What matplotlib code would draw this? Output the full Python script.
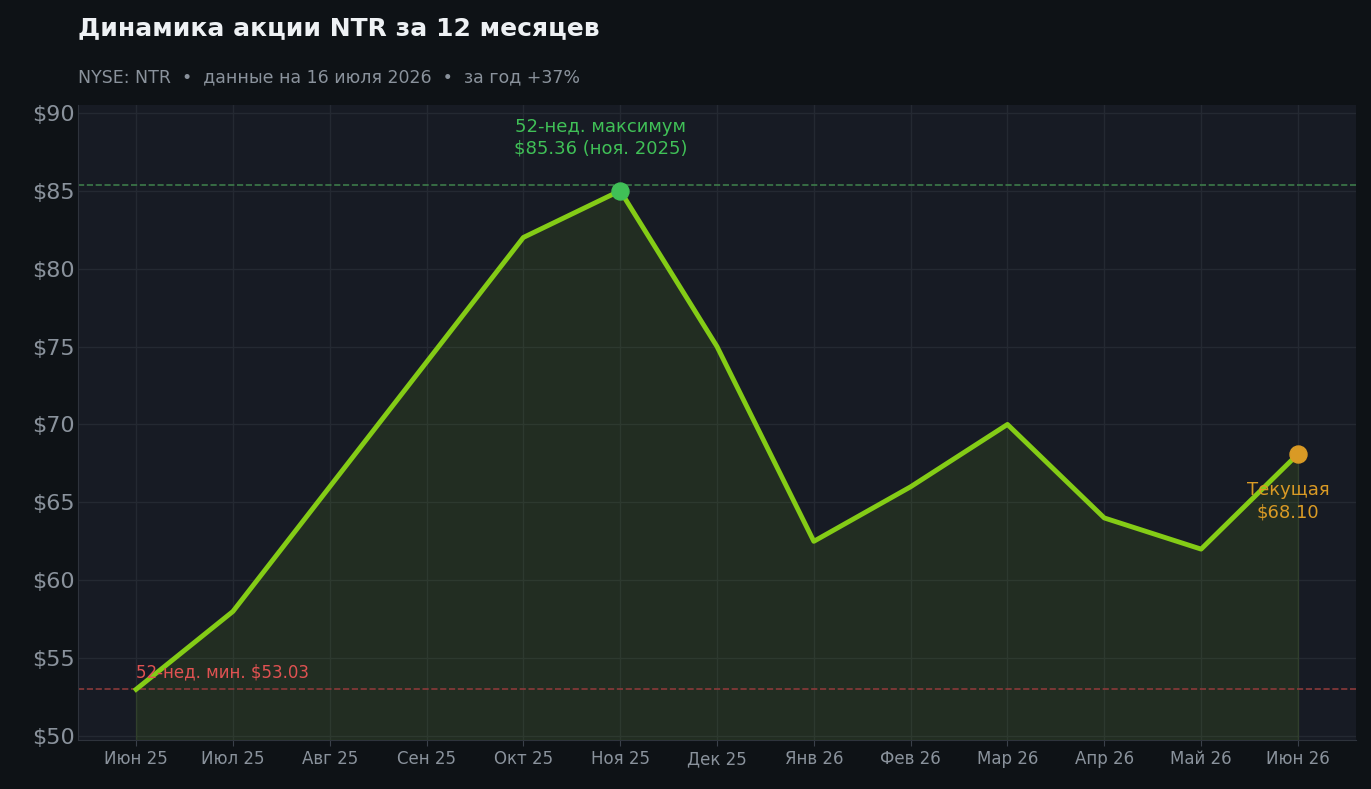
import matplotlib
matplotlib.use('Agg')
import matplotlib.pyplot as plt

plt.rcParams['font.family'] = ['DejaVu Sans']

months = ['Июн 25', 'Июл 25', 'Авг 25', 'Сен 25', 'Окт 25', 'Ноя 25', 'Дек 25',
          'Янв 26', 'Фев 26', 'Мар 26', 'Апр 26', 'Май 26', 'Июн 26']
prices = [53.0, 58.0, 66.0, 74.0, 82.0, 85.0, 75.0, 62.5, 66.0, 70.0, 64.0, 62.0, 68.1]
high_52 = 85.36
low_52 = 53.03
current = 68.10

fig = plt.figure(figsize=(13.71, 7.89), dpi=100, facecolor='#0e1216')
ax = fig.add_axes([78/1371, 1 - 740/789, (1356-78)/1371, (740-105)/789])
ax.set_facecolor('#171b24')

x = list(range(len(months)))
ax.fill_between(x, prices, 49.75, color='#84cc16', alpha=0.1)
ax.plot(x, prices, color='#84cc16', linewidth=3.5, zorder=3)

ax.axhline(high_52, color='#3d7a4a', linestyle='--', linewidth=1.2)
ax.axhline(low_52, color='#8a3a3a', linestyle='--', linewidth=1.2)

ax.scatter([5], [prices[5]], s=150, color='#40c057', zorder=4)
ax.scatter([12], [current], s=150, color='#d99a25', zorder=4)

ax.text(-0.2, 87.1, '52-нед. максимум\n$85.36 (ноя. 2025)', color='#40c057',
        ha='center', va='bottom', fontsize=13, linespacing=1.3,
        transform=ax.transData)
ax.texts[-1].set_x(5 - 0.2)
ax.text(11.9, 63.8, 'Текущая\n$68.10', color='#d99a25', ha='center', va='bottom',
        fontsize=13, linespacing=1.3)
ax.text(0, 53.5, '52-нед. мин. $53.03', color='#e05252', ha='left', va='bottom', fontsize=12)

ax.set_xlim(-0.6, 12.6)
ax.set_ylim(49.75, 90.5)
ax.set_xticks(x)
ax.set_xticklabels(months)
ax.set_yticks(range(50, 91, 5))
ax.set_yticklabels([f'${v}' for v in range(50, 91, 5)])
ax.tick_params(axis='x', colors='#8a929c', labelsize=12, length=4, color='#3a404a')
ax.tick_params(axis='y', colors='#8a929c', labelsize=16, length=0, pad=2)
ax.grid(True, color='#242932', linewidth=1)
ax.set_axisbelow(True)
for s in ['top', 'right']:
    ax.spines[s].set_visible(False)
for s in ['left', 'bottom']:
    ax.spines[s].set_color('#2e333c')

fig.text(78/1371, 1 - 28/789, 'Динамика акции NTR за 12 месяцев', color='#eef1f4',
         fontsize=18, fontweight='bold', va='center')
fig.text(78/1371, 1 - 77/789, 'NYSE: NTR  •  данные на 16 июля 2026  •  за год +37%',
         color='#8a929c', fontsize=12.5, va='center')

fig.savefig('out.png', dpi=100, facecolor=fig.get_facecolor())
